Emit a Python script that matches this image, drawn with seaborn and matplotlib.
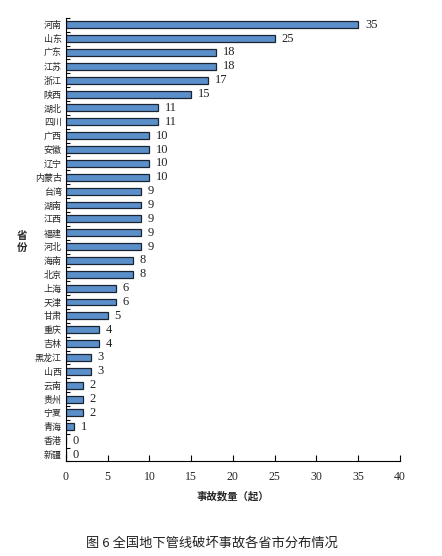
import matplotlib
matplotlib.use("Agg")
import matplotlib.pyplot as plt
import seaborn as sns
import pandas as pd
import numpy as np

provinces = ["河南", "山东", "广东", "江苏", "浙江", "陕西", "湖北", "四川", "广西", "安徽",
             "辽宁", "内蒙古", "台湾", "湖南", "江西", "福建", "河北", "海南", "北京", "上海",
             "天津", "甘肃", "重庆", "吉林", "黑龙江", "山西", "云南", "贵州", "宁夏", "青海",
             "香港", "新疆"]
counts = [35, 25, 18, 18, 17, 15, 11, 11, 10, 10,
          10, 10, 9, 9, 9, 9, 9, 8, 8, 6,
          6, 5, 4, 4, 3, 3, 2, 2, 2, 1,
          0, 0]
xticks = [0, 5, 10, 15, 20, 25, 30, 35, 40]

df = pd.DataFrame({"省份": provinces, "事故数量": counts})

sns.set_theme(style="white")
plt.rcParams['font.family'] = ['Noto Sans CJK SC', 'DejaVu Sans']

fig = plt.figure(figsize=(4.42, 5.56), dpi=100)
ax = fig.add_axes([0.149, 0.170, 0.756, 0.798])

sns.barplot(data=df, x="事故数量", y="省份", orient="h", color="#5b8fca",
            edgecolor="#1a2433", linewidth=0.9, width=0.5, saturation=1, ax=ax)

serif = ['Liberation Serif', 'DejaVu Serif']
for i, v in enumerate(counts):
    ax.text(v + 0.8, i, str(v), va="center", ha="left", fontsize=9, family=serif, color="#222222")

ax.set_xlim(0, 40)
ax.set_ylim(len(provinces) - 0.5, -0.5)
ax.set_xticks(xticks)
ax.set_xticklabels([str(t) for t in xticks], family=serif, fontsize=8.5)
for lab in ax.get_yticklabels():
    lab.set_fontsize(6.5)
ax.set_yticks(np.arange(len(provinces) + 1) - 0.5, minor=True)
ax.tick_params(axis="y", which="major", length=0, pad=3)
ax.tick_params(axis="y", which="minor", length=3, direction="in", color="black", width=0.8, left=True)
ax.tick_params(axis="x", which="major", length=4, direction="in", color="black", width=0.8, bottom=True, pad=7)

for s in ["top", "right"]:
    ax.spines[s].set_visible(False)
for s in ["left", "bottom"]:
    ax.spines[s].set_color("black")
    ax.spines[s].set_linewidth(0.8)

ax.set_xlabel("事故数量（起）", fontsize=7.5, fontweight="bold", labelpad=6)
ax.set_ylabel("")
fig.text(0.05, 0.565, "省\n份", fontsize=7.5, fontweight="bold", ha="center", va="center", linespacing=1.3)

fig.text(0.48, 0.023, "图 6 全国地下管线破坏事故各省市分布情况", fontsize=9.5, ha="center", va="center", color="#222222")

fig.savefig("out.png", dpi=100)
